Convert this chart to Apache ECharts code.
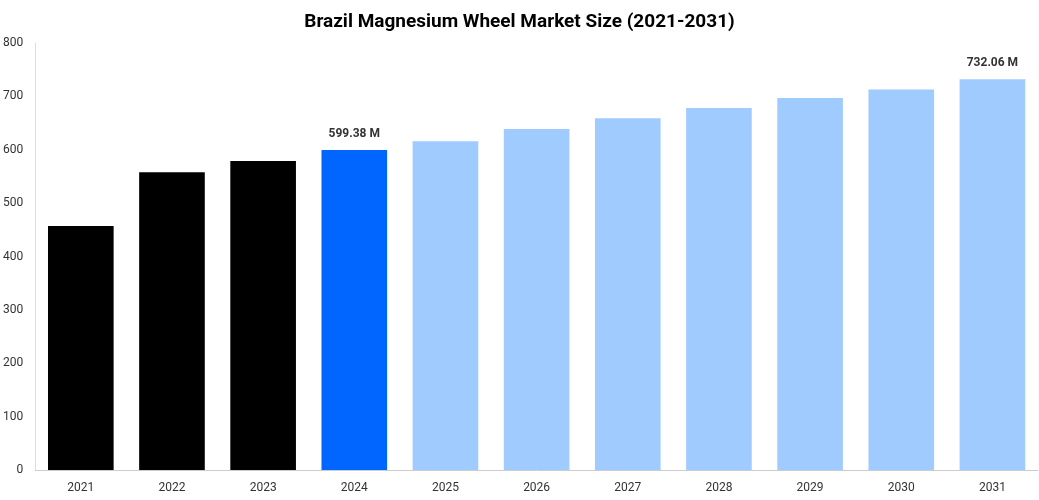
<html>
<head>
<meta charset="utf-8">
<style>html,body{margin:0;height:100%;background:#fff}#container{width:1039px;height:500px}</style>
</head>
<body>
<div id="container"></div>
<script src="https://cdn.jsdelivr.net/npm/echarts@6/dist/echarts.min.js"></script>
<script>
  const years = ['2021', '2022', '2023', '2024', '2025', '2026', '2027', '2028', '2029', '2030', '2031'];
  const values = [457, 558, 579, 599.38, 616, 639, 659, 678, 697, 713, 732.06];
  const colors = ['#000000', '#000000', '#000000', '#0066ff', '#a0cbff', '#a0cbff', '#a0cbff', '#a0cbff', '#a0cbff', '#a0cbff', '#a0cbff'];
  const labelled = ['2024', '2031'];

  var chart = echarts.init(document.getElementById('container'));
  chart.setOption({
    textStyle: { fontFamily: 'Roboto, Arial, sans-serif' },
    title: {
      text: 'Brazil Magnesium Wheel Market Size (2021-2031)',
      left: 'center', top: 8,
      textStyle: { fontSize: 19, fontWeight: 'bold', color: '#000', fontFamily: 'Roboto, Arial, sans-serif' }
    },
    grid: { left: 35, right: 1, top: 43, bottom: 30 },
    xAxis: {
      type: 'category', data: years,
      axisTick: { show: false },
      axisLine: { lineStyle: { color: '#ccc' } },
      axisLabel: { color: '#333', fontSize: 12, margin: 12 }
    },
    yAxis: {
      type: 'value', min: 0, max: 800, interval: 100,
      splitLine: { show: false },
      axisLine: { show: true, lineStyle: { color: '#ddd' } },
      axisLabel: { color: '#333', fontSize: 12, margin: 12 }
    },
    series: [{
      type: 'bar', barWidth: '72%',
      data: values.map((v, i) => ({
        value: v,
        itemStyle: { color: colors[i] },
        label: {
          show: labelled.includes(years[i]), position: 'top', distance: 10,
          formatter: p => p.value.toFixed(2) + ' M',
          fontWeight: 'bold', fontSize: 12, color: '#333'
        }
      }))
    }]
  });
</script>
</body>
</html>
